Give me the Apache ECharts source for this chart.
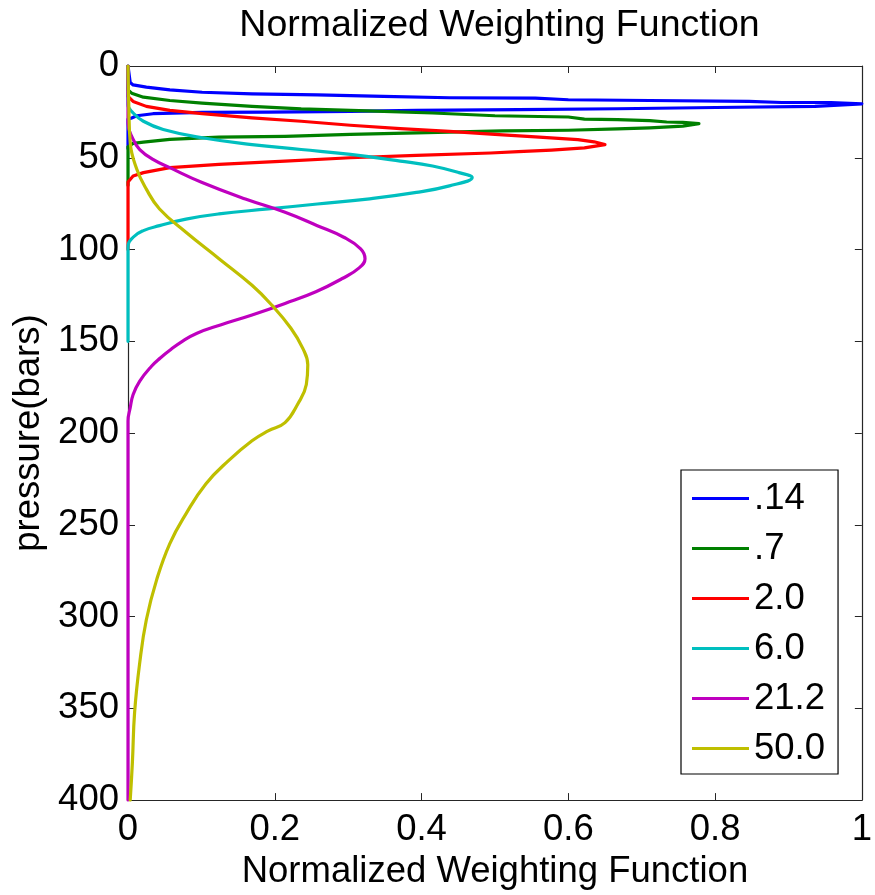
<!DOCTYPE html>
<html>
<head>
<meta charset="utf-8">
<script src="https://cdn.jsdelivr.net/npm/echarts@6/dist/echarts.min.js"></script>
<style>
  html, body { margin: 0; padding: 0; background: #fff; }
  #chart { width: 875px; height: 895px; }
</style>
</head>
<body>
<div id="chart"></div>
<script>
// Weighting function profiles: pressure (bars) vs normalized weight.
const seriesNames = ['.14', '.7', '2.0', '6.0', '21.2', '50.0'];
const seriesColors = ['#0000ff', '#008000', '#ff0000', '#00bfbf', '#bf00bf', '#bfbf00'];

const pBlue = [0, 9, 10.3, 11.5, 13, 14.3, 15.2, 15.7, 16.6, 17.3, 17.5, 18.4, 18.8, 19.3, 19.9, 19.9, 20.6, 22, 22.6, 23.3, 23.8, 24.2, 24.7, 25.1, 25.3, 26, 27.1, 28.3, 29, 45];
const wBlue = [0, 0.003, 0.007, 0.025, 0.057, 0.101, 0.169, 0.258, 0.348, 0.438, 0.555, 0.6, 0.711, 0.846, 0.891, 0.958, 1.0, 0.936, 0.801, 0.667, 0.532, 0.393, 0.303, 0.191, 0.101, 0.034, 0.012, 0.005, 0, 0];

const pGreen = [0, 13, 14.8, 17, 18.8, 20.2, 22, 23.4, 24.4, 25.6, 27.1, 27.8, 28.9, 29.2, 29.8, 30.5, 30.7, 31.4, 32.8, 33.7, 34.3, 35, 35.4, 36.4, 37.3, 38.3, 38.8, 40, 41.5, 42.2, 44, 65];
const wGreen = [0, 0, 0.005, 0.021, 0.057, 0.101, 0.169, 0.236, 0.326, 0.415, 0.5, 0.6, 0.622, 0.667, 0.711, 0.734, 0.756, 0.778, 0.756, 0.711, 0.667, 0.6, 0.51, 0.393, 0.303, 0.214, 0.124, 0.057, 0.021, 0.007, 0, 0];

const pRed = [0, 16.6, 19.3, 22, 24.2, 26, 28.3, 30.1, 32.3, 34.1, 35.6, 37.3, 38.6, 40.1, 41.3, 42.8, 44.6, 45.8, 46.7, 47.4, 48.7, 50, 51.8, 53.6, 55.4, 58.1, 59.9, 63.2, 100];
const wRed = [0, 0, 0.007, 0.025, 0.057, 0.101, 0.169, 0.236, 0.303, 0.371, 0.438, 0.5, 0.555, 0.613, 0.635, 0.65, 0.622, 0.577, 0.532, 0.494, 0.393, 0.303, 0.214, 0.124, 0.057, 0.021, 0.007, 0, 0];

const pCyan = [0, 21.1, 25.6, 30.1, 34.6, 39.1, 42.8, 45.5, 48.2, 51.8, 54.5, 58.1, 60.8, 65.3, 68.9, 72.5, 75.2, 77.9, 80.6, 83.4, 87, 89.7, 93.3, 98.7, 150];
const wCyan = [0, 0, 0.007, 0.021, 0.048, 0.101, 0.169, 0.236, 0.303, 0.371, 0.415, 0.451, 0.469, 0.438, 0.393, 0.326, 0.258, 0.191, 0.124, 0.079, 0.043, 0.021, 0.007, 0, 0];

const pMagenta = [0, 31, 40, 45.5, 50.9, 55.4, 63.5, 72.5, 79.7, 87, 93.3, 99.6, 105, 110, 115.8, 123, 129.4, 135.7, 141.1, 145.6, 150, 154.6, 159.1, 163.6, 171.7, 179, 186.2, 193.4, 400];
const wMagenta = [0, 0, 0.007, 0.016, 0.034, 0.057, 0.101, 0.16, 0.214, 0.258, 0.294, 0.317, 0.323, 0.315, 0.292, 0.256, 0.214, 0.169, 0.126, 0.094, 0.074, 0.058, 0.044, 0.032, 0.016, 0.007, 0.003, 0, 0];

const pYellow = [0, 20, 41.8, 56.3, 67.1, 77.9, 90.6, 105, 119.5, 130.3, 142.9, 153.7, 162.8, 173.6, 184.4, 194.3, 198.8, 204.2, 215, 227.7, 244, 260.2, 280, 301.7, 325.1, 352.2, 379.3, 400];
const wYellow = [0, 0.001, 0.003, 0.012, 0.025, 0.043, 0.079, 0.124, 0.169, 0.196, 0.222, 0.238, 0.245, 0.243, 0.231, 0.214, 0.191, 0.169, 0.137, 0.106, 0.079, 0.057, 0.039, 0.025, 0.016, 0.009, 0.006, 0.003];

const xTicks = [0, 0.2, 0.4, 0.6, 0.8, 1];
const yTicks = [0, 50, 100, 150, 200, 250, 300, 350, 400];

const profiles = [
  [pBlue, wBlue, false],
  [pGreen, wGreen, false],
  [pRed, wRed, false],
  [pCyan, wCyan, 0.45],
  [pMagenta, wMagenta, 0.45],
  [pYellow, wYellow, 0.45]
];

const FONT = "'Liberation Sans', Arial, Helvetica, sans-serif";
const AXIS_COLOR = '#262626';
const TEXT_SIZE = 36.5;

const gridBox = { left: 128, top: 66, width: 743, height: 739 };

function fmtX(v) { return v === 0 ? '0' : (v === 1 ? '1' : String(v)); }

const chart = echarts.init(document.getElementById('chart'), null, { renderer: 'canvas' });

const axisCommon = {
  type: 'value',
  axisLine: { show: true, onZero: false, lineStyle: { color: AXIS_COLOR, width: 1.2 } },
  axisTick: { show: true, inside: true, length: 7, lineStyle: { color: AXIS_COLOR, width: 1 } },
  splitLine: { show: false }
};

const option = {
  animation: false,
  backgroundColor: '#ffffff',
  color: seriesColors,
  grid: gridBox,
  graphic: [{
    type: 'text',
    x: gridBox.left + gridBox.width / 2,
    y: 26,
    style: {
      text: 'Normalized Weighting Function',
      font: '37.5px ' + FONT,
      fill: '#000',
      textAlign: 'center',
      textVerticalAlign: 'middle'
    }
  }],
  legend: {
    orient: 'vertical',
    left: 681,
    top: 470,
    padding: [10, 13, 7, 11],
    itemGap: 13,
    itemWidth: 57,
    itemHeight: 3,
    icon: 'rect',
    selectedMode: false,
    backgroundColor: '#ffffff',
    borderColor: '#000000',
    borderWidth: 1.2,
    borderRadius: 0,
    data: seriesNames,
    textStyle: { fontFamily: FONT, fontSize: TEXT_SIZE, color: '#000', lineHeight: 36, height: 36 }
  },
  xAxis: [
    Object.assign({}, axisCommon, {
      position: 'bottom',
      min: 0, max: 1, interval: 0.2,
      name: 'Normalized Weighting Function',
      nameLocation: 'middle',
      nameGap: 42,
      nameTextStyle: { fontFamily: FONT, fontSize: TEXT_SIZE, color: '#000' },
      axisLabel: {
        margin: 11, fontFamily: FONT, fontSize: TEXT_SIZE, color: '#000',
        formatter: fmtX
      }
    }),
    Object.assign({}, axisCommon, {
      position: 'top',
      min: 0, max: 1, interval: 0.2,
      axisLabel: { show: false }
    })
  ],
  yAxis: [
    Object.assign({}, axisCommon, {
      position: 'left',
      inverse: true,
      min: 0, max: 400, interval: 50,
      name: 'pressure(bars)',
      nameLocation: 'middle',
      nameGap: 80,
      nameRotate: 90,
      nameTextStyle: { fontFamily: FONT, fontSize: TEXT_SIZE, color: '#000' },
      axisLabel: { margin: 9, fontFamily: FONT, fontSize: TEXT_SIZE, color: '#000' }
    }),
    Object.assign({}, axisCommon, {
      position: 'right',
      inverse: true,
      min: 0, max: 400, interval: 50,
      axisLabel: { show: false }
    })
  ],
  series: profiles.map(function (prof, i) {
    const pres = prof[0], wts = prof[1];
    return {
      name: seriesNames[i],
      type: 'line',
      xAxisIndex: 0,
      yAxisIndex: 0,
      showSymbol: false,
      symbol: 'none',
      smooth: prof[2],
      clip: true,
      lineStyle: { width: 3.2, color: seriesColors[i], join: 'round', cap: 'round' },
      itemStyle: { color: seriesColors[i] },
      data: pres.map(function (p, k) { return [wts[k], p]; })
    };
  })
};

chart.setOption(option);
</script>
</body>
</html>
